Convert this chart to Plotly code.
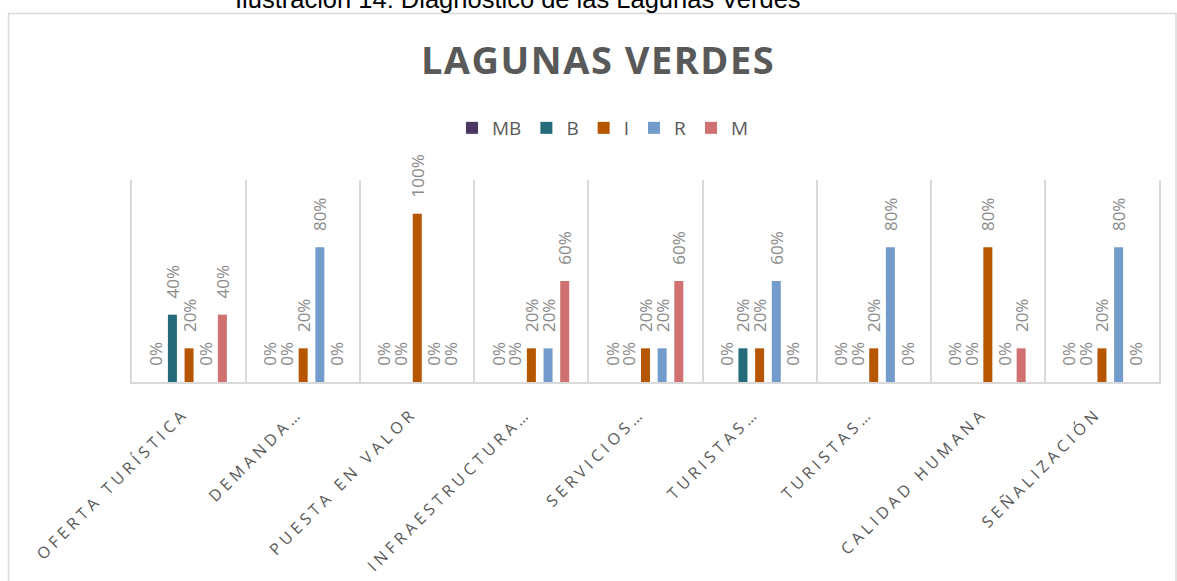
import plotly.graph_objects as go

categories = ["OFERTA TURÍSTICA", "DEMANDA…", "PUESTA EN VALOR", "INFRAESTRUCTURA…",
              "SERVICIOS…", "TURISTAS…", "TURISTAS…", "CALIDAD HUMANA", "SEÑALIZACIÓN"]
series_names = ["MB", "B", "I", "R", "M"]
mb_values = [0, 0, 0, 0, 0, 0, 0, 0, 0]
b_values = [40, 0, 0, 0, 0, 20, 0, 0, 0]
i_values = [20, 20, 100, 20, 20, 20, 20, 80, 20]
r_values = [0, 80, 0, 20, 20, 60, 80, 0, 80]
m_values = [40, 0, 0, 60, 60, 0, 0, 20, 0]
colors = ["#4b3862", "#246a7b", "#b65600", "#739bcb", "#cf7170"]

chart_title = "LAGUNAS VERDES"
caption = "Ilustración 14: Diagnóstico de las Lagunas Verdes"

W, H = 1177, 581
L, R, T, B = 132, 18, 180, 199
pw, ph = W - L - R, H - T - B

def px_x(p):
    return (p - L) / pw

def px_y(p):
    return (H - B - p) / ph

def spaced(s, px):
    return f"<span style='letter-spacing:{px}px'>{s}</span>"

x_pos = list(range(len(categories)))
fig = go.Figure()
for name, vals, col in zip(series_names, [mb_values, b_values, i_values, r_values, m_values], colors):
    fig.add_trace(go.Bar(
        x=x_pos, y=vals, name=name, marker=dict(color=col, line=dict(width=0)),
        text=[f"\u00a0\u00a0\u00a0{v}%" for v in vals],
        textposition="outside", textangle=-90, constraintext="none",
        cliponaxis=False,
        textfont=dict(family="Open Sans", size=17, color="#8a8a8a"),
    ))

fig.update_layout(
    width=W, height=H,
    margin=dict(l=L, r=R, t=T, b=B, autoexpand=False),
    paper_bgcolor="white", plot_bgcolor="white",
    barmode="group", bargap=0.27, bargroupgap=0.46,
    title=dict(text="<b>" + spaced(chart_title, 1.5) + "</b>", x=598 / W, xref="container",
               xanchor="center", y=1 - 61 / H, yref="container", yanchor="middle",
               font=dict(family="Open Sans", size=38, color="#595959")),
    legend=dict(orientation="h", x=px_x(603), xanchor="center", y=px_y(128), yanchor="middle",
                font=dict(family="Open Sans", size=19, color="#595959"),
                itemwidth=30, traceorder="normal", itemclick=False),
    showlegend=True,
    xaxis=dict(range=[-0.5, len(categories) - 0.5], tickmode="array", tickvals=x_pos,
               ticktext=[spaced(c, 4.2) for c in categories], tickangle=-45,
               showgrid=False, zeroline=False, automargin=False,
               showline=True, linecolor="#d9d9d9", linewidth=1.5, ticks="",
               ticklabelstandoff=14, ticklabelshift=-5,
               tickfont=dict(family="Open Sans", size=16, color="#595959"),
               minor=dict(tickmode="array", tickvals=[k - 0.5 for k in range(len(categories) + 1)],
                          showgrid=True, gridcolor="#d9d9d9", gridwidth=1.5, ticks="")),
    yaxis=dict(range=[0, 120], showgrid=False, zeroline=False, showticklabels=False,
               automargin=False,
               showline=True, mirror=True, linecolor="#d9d9d9", linewidth=1.5, ticks=""),
    annotations=[dict(text=caption, xref="paper", yref="paper", x=px_x(518), y=px_y(-1),
                      xanchor="center", yanchor="middle", showarrow=False,
                      font=dict(family="Liberation Sans, Arial", size=25.5, color="#000000"))],
    shapes=[dict(type="rect", xref="paper", yref="paper", x0=px_x(8.5), x1=px_x(1176),
                 y0=px_y(600), y1=px_y(13.5), line=dict(color="#d9d9d9", width=1.5),
                 fillcolor="rgba(0,0,0,0)", layer="below")],
)

fig.write_html("out.html", config={"displayModeBar": False},
               post_script="document.body.style.margin='0';document.body.style.overflow='hidden';")
